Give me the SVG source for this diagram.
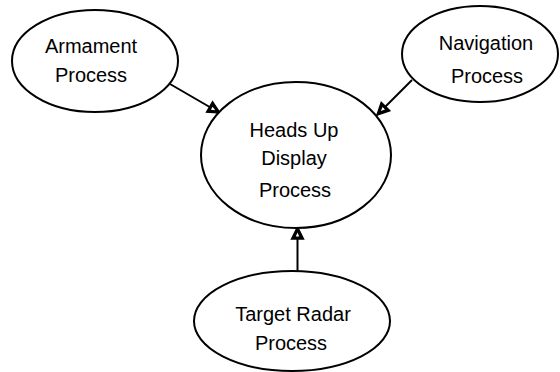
<svg xmlns="http://www.w3.org/2000/svg" width="560" height="372" viewBox="0 0 560 372">
<defs>
<style>
.node ellipse{fill:#fff;stroke:#000;stroke-width:2}
text{font-family:"Liberation Sans",Arial,sans-serif;font-size:20px;fill:#000;text-anchor:middle}
.conn line{stroke:#000;stroke-width:2}
</style>
<marker id="ah" viewBox="0 0 16 16" refX="14" refY="8" markerWidth="16" markerHeight="16" markerUnits="userSpaceOnUse" orient="auto">
<path d="M2,2 L14,8 L2,14 Z" fill="#000" stroke="#000" stroke-width="1.5" stroke-linejoin="miter"/>
<path d="M4.5,6.3 L8.5,8 L4.5,9.7 Z" fill="#fff"/>
</marker>
</defs>
<rect width="560" height="372" fill="#fff"/>
<g id="connectors" class="conn">
<line x1="170" y1="84" x2="220" y2="113" marker-end="url(#ah)"/>
<line x1="412" y1="80" x2="377" y2="115" marker-end="url(#ah)"/>
<line x1="297.5" y1="273" x2="297.5" y2="227" marker-end="url(#ah)"/>
</g>
<g id="armament" class="node">
<ellipse cx="95" cy="61" rx="83" ry="51"/>
<text x="91" y="53">Armament</text>
<text x="91" y="82">Process</text>
</g>
<g id="navigation" class="node">
<ellipse cx="480" cy="54" rx="78" ry="48"/>
<text x="486" y="50">Navigation</text>
<text x="487" y="83">Process</text>
</g>
<g id="hud" class="node">
<ellipse cx="296" cy="155" rx="95" ry="73"/>
<text x="294" y="137">Heads Up</text>
<text x="294" y="165">Display</text>
<text x="295" y="197">Process</text>
</g>
<g id="radar" class="node">
<ellipse cx="292" cy="321" rx="98" ry="50"/>
<text x="293" y="321">Target Radar</text>
<text x="291" y="350">Process</text>
</g>
</svg>
